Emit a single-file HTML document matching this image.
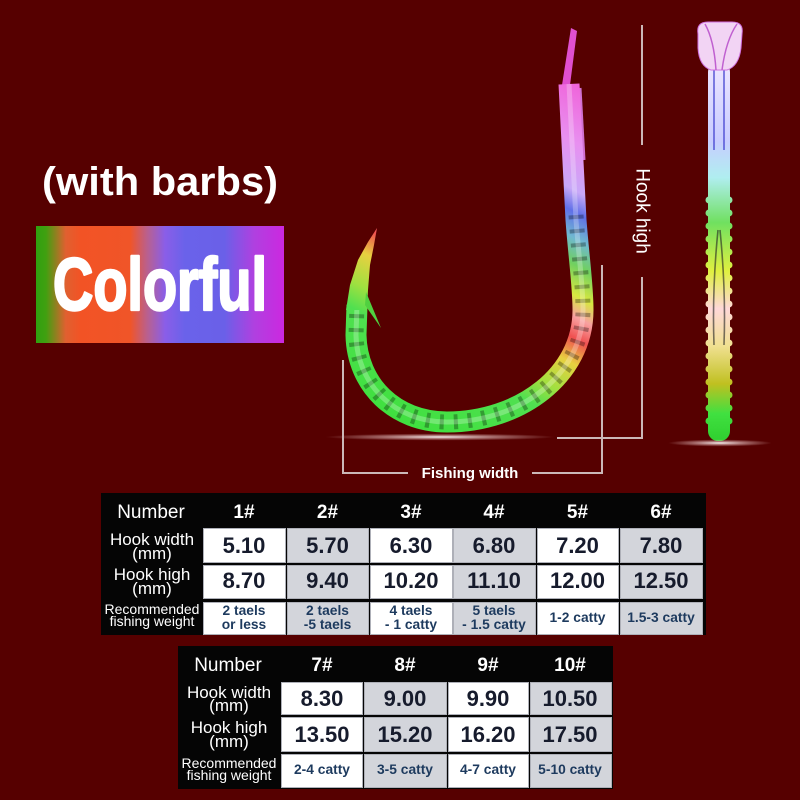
<!DOCTYPE html>
<html><head><meta charset="utf-8"><style>
html,body{margin:0;padding:0;background:#560000;}
svg{display:block;}
text{font-family:"Liberation Sans",sans-serif;}
</style></head><body>
<svg width="800" height="800" viewBox="0 0 800 800" xmlns="http://www.w3.org/2000/svg">
<defs>
 <linearGradient id="hg" gradientUnits="userSpaceOnUse" x1="580" y1="80" x2="400" y2="420">
  <stop offset="0" stop-color="#f060d8"/>
  <stop offset="0.15" stop-color="#e890f0"/>
  <stop offset="0.26" stop-color="#c8a8f8"/>
  <stop offset="0.31" stop-color="#6070e8"/>
  <stop offset="0.37" stop-color="#70b8d0"/>
  <stop offset="0.43" stop-color="#70d060"/>
  <stop offset="0.5" stop-color="#d8e840"/>
  <stop offset="0.55" stop-color="#f8a0a0"/>
  <stop offset="0.6" stop-color="#f05050"/>
  <stop offset="0.66" stop-color="#e8d040"/>
  <stop offset="0.74" stop-color="#a0e040"/>
  <stop offset="0.8" stop-color="#50e050"/>
  <stop offset="1" stop-color="#40e040"/>
 </linearGradient>
 <linearGradient id="cg" x1="0" y1="0" x2="1" y2="0">
  <stop offset="0" stop-color="#30a010"/>
  <stop offset="0.04" stop-color="#40a010"/>
  <stop offset="0.12" stop-color="#e06030"/>
  <stop offset="0.18" stop-color="#f25325"/>
  <stop offset="0.38" stop-color="#f05528"/>
  <stop offset="0.45" stop-color="#b86090"/>
  <stop offset="0.52" stop-color="#8a5ee8"/>
  <stop offset="0.6" stop-color="#6a62ea"/>
  <stop offset="0.76" stop-color="#6a60e8"/>
  <stop offset="0.88" stop-color="#b040e0"/>
  <stop offset="1" stop-color="#cc28e0"/>
 </linearGradient>
 <linearGradient id="sg" gradientUnits="userSpaceOnUse" x1="0" y1="65" x2="0" y2="440">
  <stop offset="0" stop-color="#ece4ff"/>
  <stop offset="0.2" stop-color="#c8ccff"/>
  <stop offset="0.3" stop-color="#b0eef0"/>
  <stop offset="0.42" stop-color="#70e060"/>
  <stop offset="0.55" stop-color="#e0f040"/>
  <stop offset="0.65" stop-color="#ffd8d8"/>
  <stop offset="0.75" stop-color="#f0e090"/>
  <stop offset="0.85" stop-color="#c0c020"/>
  <stop offset="0.93" stop-color="#40e040"/>
  <stop offset="1" stop-color="#30d030"/>
 </linearGradient>
 <radialGradient id="glow" cx="0.5" cy="0.5" r="0.5">
  <stop offset="0" stop-color="#ffffff" stop-opacity="0.95"/>
  <stop offset="0.5" stop-color="#f0d0d0" stop-opacity="0.5"/>
  <stop offset="1" stop-color="#f0d0d0" stop-opacity="0"/>
 </radialGradient>
</defs>

<rect x="0" y="0" width="800" height="800" fill="#560000"/>

<!-- title -->
<text x="42" y="195" font-size="40" font-weight="bold" fill="#ffffff" textLength="236" lengthAdjust="spacingAndGlyphs">(with barbs)</text>

<!-- colorful box -->
<rect x="36" y="226" width="248" height="117" fill="url(#cg)"/>
<text x="53" y="310" font-size="74" font-weight="bold" fill="#ffffff" stroke="#ffffff" stroke-width="2.5" stroke-linejoin="round" textLength="214" lengthAdjust="spacingAndGlyphs">Colorful</text>

<!-- glow under hook -->
<ellipse cx="440" cy="437" rx="115" ry="3.5" fill="url(#glow)"/>

<!-- dimension lines -->
<g stroke="#cbb8b8" stroke-width="2" fill="none">
 <path d="M343 360 V473 H408"/>
 <path d="M532 473 H602 V265"/>
 <path d="M642 25 V145"/>
 <path d="M642 277 V438 H557"/>
</g>
<text x="470" y="478" font-size="15" font-weight="bold" fill="#ffffff" text-anchor="middle">Fishing width</text>
<text transform="translate(643,211) rotate(90)" x="0" y="6.5" font-size="19" fill="#ffffff" text-anchor="middle">Hook high</text>

<!-- hook -->
<polygon points="571,28 577,31 570,85 562,85" fill="#e050d0"/>
<line x1="580" y1="88" x2="584" y2="160" stroke="#d070d0" stroke-width="3"/>
<path d="M569 84 L576 220 C579 260 583 285 583 310 C583 375 520 422 447 422 C395 422 357 385 356 335 L357 305" fill="none" stroke="url(#hg)" stroke-width="21"/>
<path d="M576 215 C579 260 583 285 583 310 C583 375 520 422 447 422 C395 422 357 385 356 335 L357 305" fill="none" stroke="#000000" stroke-opacity="0.3" stroke-width="15" stroke-dasharray="4 10"/>
<path d="M569 84 L576 220 C579 260 583 285 583 310 C583 375 520 422 447 422 C395 422 357 385 356 335 L357 305" fill="none" stroke="#ffffff" stroke-opacity="0.25" stroke-width="5"/>
<polygon points="346,310 350,285 358,260 368,242 377,228 374,245 370,265 368,290 367,310" fill="url(#hg)"/>
<polygon points="366,292 381,328 365,305" fill="#50d040"/>

<!-- side view hook -->
<rect x="708" y="62" width="22" height="379" rx="10" fill="url(#sg)"/>
<g fill="url(#sg)">
 <circle cx="709" cy="200" r="3.5"/><circle cx="729" cy="200" r="3.5"/>
 <circle cx="709" cy="213" r="3.5"/><circle cx="729" cy="213" r="3.5"/>
 <circle cx="709" cy="226" r="3.5"/><circle cx="729" cy="226" r="3.5"/>
 <circle cx="709" cy="239" r="3.5"/><circle cx="729" cy="239" r="3.5"/>
 <circle cx="709" cy="252" r="3.5"/><circle cx="729" cy="252" r="3.5"/>
 <circle cx="709" cy="265" r="3.5"/><circle cx="729" cy="265" r="3.5"/>
 <circle cx="709" cy="278" r="3.5"/><circle cx="729" cy="278" r="3.5"/>
 <circle cx="709" cy="291" r="3.5"/><circle cx="729" cy="291" r="3.5"/>
 <circle cx="709" cy="304" r="3.5"/><circle cx="729" cy="304" r="3.5"/>
 <circle cx="709" cy="317" r="3.5"/><circle cx="729" cy="317" r="3.5"/>
 <circle cx="709" cy="330" r="3.5"/><circle cx="729" cy="330" r="3.5"/>
 <circle cx="709" cy="343" r="3.5"/><circle cx="729" cy="343" r="3.5"/>
 <circle cx="709" cy="356" r="3.5"/><circle cx="729" cy="356" r="3.5"/>
 <circle cx="709" cy="369" r="3.5"/><circle cx="729" cy="369" r="3.5"/>
 <circle cx="709" cy="382" r="3.5"/><circle cx="729" cy="382" r="3.5"/>
 <circle cx="709" cy="395" r="3.5"/><circle cx="729" cy="395" r="3.5"/>
 <circle cx="709" cy="408" r="3.5"/><circle cx="729" cy="408" r="3.5"/>
 <circle cx="709" cy="421" r="3.5"/><circle cx="729" cy="421" r="3.5"/>
</g>
<g fill="none" stroke-width="1.6">
 <line x1="714" y1="70" x2="714" y2="150" stroke="#4040d0" stroke-opacity="0.8"/>
 <line x1="724" y1="70" x2="724" y2="150" stroke="#4040d0" stroke-opacity="0.8"/>
 <path d="M718 230 Q712 290 714 345" stroke="#222" stroke-opacity="0.6"/>
 <path d="M720 230 Q726 290 724 345" stroke="#222" stroke-opacity="0.6"/>
</g>
<path d="M698 34 Q696 22 708 22 L732 22 Q744 22 742 34 L741 48 Q739 66 727 70 L711 70 Q699 66 698 48 Z" fill="#f2d4f4" stroke="#d070e0" stroke-width="1"/>
<path d="M705 24 Q714 40 716 70 M737 24 Q726 40 722 70" fill="none" stroke="#c060d0" stroke-width="1.5"/>
<ellipse cx="720" cy="443" rx="52" ry="3.5" fill="url(#glow)"/>

<!-- TABLE 1 -->
<rect x="101" y="493" width="605" height="142" fill="#050505"/>
<g stroke="#aeb0b8" stroke-width="1">
 <rect x="203.5" y="528.5" width="82" height="34" fill="#ffffff"/>
 <rect x="287.5" y="528.5" width="81" height="34" fill="#d3d5db"/>
 <rect x="370.5" y="528.5" width="82" height="34" fill="#ffffff"/>
 <rect x="453.5" y="528.5" width="82" height="34" fill="#d3d5db"/>
 <rect x="537.5" y="528.5" width="81" height="34" fill="#ffffff"/>
 <rect x="620.5" y="528.5" width="82" height="34" fill="#d3d5db"/>

 <rect x="203.5" y="565.5" width="82" height="33" fill="#ffffff"/>
 <rect x="287.5" y="565.5" width="81" height="33" fill="#d3d5db"/>
 <rect x="370.5" y="565.5" width="82" height="33" fill="#ffffff"/>
 <rect x="453.5" y="565.5" width="82" height="33" fill="#d3d5db"/>
 <rect x="537.5" y="565.5" width="81" height="33" fill="#ffffff"/>
 <rect x="620.5" y="565.5" width="82" height="33" fill="#d3d5db"/>

 <rect x="203.5" y="602.5" width="82" height="32" fill="#ffffff"/>
 <rect x="287.5" y="602.5" width="81" height="32" fill="#d3d5db"/>
 <rect x="370.5" y="602.5" width="82" height="32" fill="#ffffff"/>
 <rect x="453.5" y="602.5" width="82" height="32" fill="#d3d5db"/>
 <rect x="537.5" y="602.5" width="81" height="32" fill="#ffffff"/>
 <rect x="620.5" y="602.5" width="82" height="32" fill="#d3d5db"/>
</g>
<g fill="#ffffff" text-anchor="middle">
 <text x="151" y="518" font-size="19">Number</text>
 <text x="244" y="518" font-size="19" font-weight="bold">1#</text>
 <text x="327.5" y="518" font-size="19" font-weight="bold">2#</text>
 <text x="411" y="518" font-size="19" font-weight="bold">3#</text>
 <text x="494" y="518" font-size="19" font-weight="bold">4#</text>
 <text x="577.5" y="518" font-size="19" font-weight="bold">5#</text>
 <text x="661" y="518" font-size="19" font-weight="bold">6#</text>
 <text x="152" y="545" font-size="17">Hook width</text>
 <text x="152" y="559" font-size="17">(mm)</text>
 <text x="152" y="580" font-size="17">Hook high</text>
 <text x="152" y="594" font-size="17">(mm)</text>
 <text x="152" y="614" font-size="14">Recommended</text>
 <text x="152" y="626" font-size="14">fishing weight</text>
</g>
<g fill="#161b2c" text-anchor="middle" font-size="22" font-weight="bold">
 <text x="244" y="553">5.10</text>
 <text x="327.5" y="553">5.70</text>
 <text x="411" y="553">6.30</text>
 <text x="494" y="553">6.80</text>
 <text x="577.5" y="553">7.20</text>
 <text x="661" y="553">7.80</text>
 <text x="244" y="588">8.70</text>
 <text x="327.5" y="588">9.40</text>
 <text x="411" y="588">10.20</text>
 <text x="494" y="588">11.10</text>
 <text x="577.5" y="588">12.00</text>
 <text x="661" y="588">12.50</text>
</g>
<g fill="#1d3a5e" text-anchor="middle" font-size="13.8" font-weight="bold">
 <text x="244" y="615">2 taels</text>
 <text x="244" y="629">or less</text>
 <text x="327.5" y="615">2 taels</text>
 <text x="327.5" y="629">-5 taels</text>
 <text x="411" y="615">4 taels</text>
 <text x="411" y="629">- 1 catty</text>
 <text x="494" y="615">5 taels</text>
 <text x="494" y="629">- 1.5 catty</text>
 <text x="577.5" y="622">1-2 catty</text>
 <text x="661" y="622">1.5-3 catty</text>
</g>

<!-- TABLE 2 -->
<rect x="178" y="646" width="435" height="143" fill="#050505"/>
<g stroke="#aeb0b8" stroke-width="1">
 <rect x="281.5" y="682.5" width="81" height="32" fill="#ffffff"/>
 <rect x="364.5" y="682.5" width="82" height="32" fill="#d3d5db"/>
 <rect x="448.5" y="682.5" width="80" height="32" fill="#ffffff"/>
 <rect x="530.5" y="682.5" width="81" height="32" fill="#d3d5db"/>

 <rect x="281.5" y="717.5" width="81" height="34" fill="#ffffff"/>
 <rect x="364.5" y="717.5" width="82" height="34" fill="#d3d5db"/>
 <rect x="448.5" y="717.5" width="80" height="34" fill="#ffffff"/>
 <rect x="530.5" y="717.5" width="81" height="34" fill="#d3d5db"/>

 <rect x="281.5" y="754.5" width="81" height="33" fill="#ffffff"/>
 <rect x="364.5" y="754.5" width="82" height="33" fill="#d3d5db"/>
 <rect x="448.5" y="754.5" width="80" height="33" fill="#ffffff"/>
 <rect x="530.5" y="754.5" width="81" height="33" fill="#d3d5db"/>
</g>
<g fill="#ffffff" text-anchor="middle">
 <text x="228" y="671" font-size="19">Number</text>
 <text x="322" y="671" font-size="19" font-weight="bold">7#</text>
 <text x="405" y="671" font-size="19" font-weight="bold">8#</text>
 <text x="488" y="671" font-size="19" font-weight="bold">9#</text>
 <text x="570" y="671" font-size="19" font-weight="bold">10#</text>
 <text x="229" y="698" font-size="17">Hook width</text>
 <text x="229" y="711" font-size="17">(mm)</text>
 <text x="229" y="733" font-size="17">Hook high</text>
 <text x="229" y="747" font-size="17">(mm)</text>
 <text x="229" y="768" font-size="14">Recommended</text>
 <text x="229" y="780" font-size="14">fishing weight</text>
</g>
<g fill="#161b2c" text-anchor="middle" font-size="22" font-weight="bold">
 <text x="322" y="706">8.30</text>
 <text x="405" y="706">9.00</text>
 <text x="488" y="706">9.90</text>
 <text x="570" y="706">10.50</text>
 <text x="322" y="742">13.50</text>
 <text x="405" y="742">15.20</text>
 <text x="488" y="742">16.20</text>
 <text x="570" y="742">17.50</text>
</g>
<g fill="#1d3a5e" text-anchor="middle" font-size="13.8" font-weight="bold">
 <text x="322" y="774">2-4 catty</text>
 <text x="405" y="774">3-5 catty</text>
 <text x="488" y="774">4-7 catty</text>
 <text x="570" y="774">5-10 catty</text>
</g>
</svg>
</body></html>
